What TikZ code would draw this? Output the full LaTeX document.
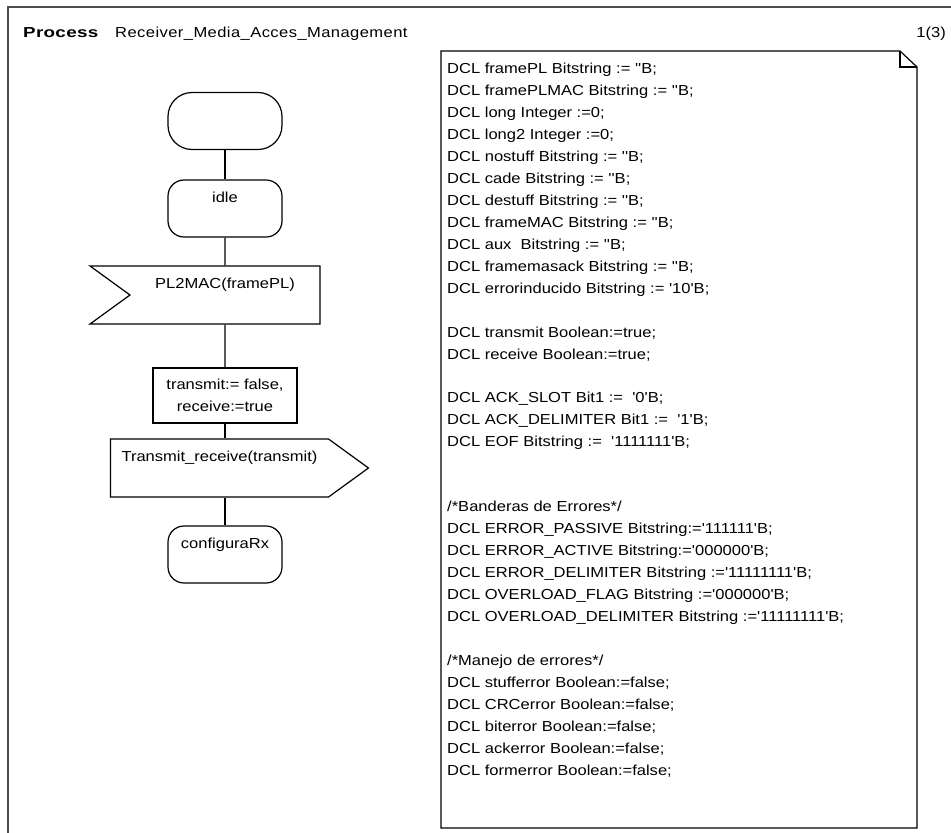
\documentclass[tikz,border=0pt]{standalone}
\usepackage{fontspec}
\setmainfont{Liberation Sans}[Ligatures=TeXOff,FakeStretch=1.14]
\usetikzlibrary{shapes.symbols}
\tikzstyle{sdlline}=[line width=1.2pt]
\tikzstyle{sdlbase}=[draw,line width=1.2pt,text height=10pt,text depth=23pt]
\tikzstyle{sdlstate}=[sdlbase,rectangle,rounded corners=16pt,minimum width=114pt,minimum height=57pt]
\tikzstyle{sdlstart}=[sdlstate,rounded corners=24pt]
\tikzstyle{sdlinput}=[sdlbase,signal,signal to=nowhere,signal from=west,signal pointer angle=72,minimum width=230pt,minimum height=58pt]
\tikzstyle{sdloutput}=[sdlbase,signal,signal to=east,signal pointer angle=72,minimum width=258pt,minimum height=58pt]
\tikzstyle{sdltask}=[draw,line width=1.2pt,rectangle,align=center,minimum width=144pt,minimum height=55pt]
\def\blankline{\\[21.53pt]} % one empty line of the declaration text

\begin{document}
\begin{tikzpicture}[x=1pt,y=-1pt,inner sep=0pt,
	every node/.style={font=\fontsize{14.5}{22}\selectfont}]
	\useasboundingbox (0,0) rectangle (951,833);
	% page frame
	\draw[black!70,line width=2.5pt] (8,833) -- (8,7) -- (951,7);
	\node[anchor=base west,font=\fontsize{14.5}{22}\selectfont\bfseries\addfontfeature{FakeStretch=1.3,LetterSpace=2}] (proclabel) at (23,37) {Process};
	\node[anchor=base west,font=\fontsize{14.5}{22}\selectfont\addfontfeature{LetterSpace=3}] (procname) at (115,37) {Receiver\_Media\_Acces\_Management};
	\node[anchor=base east] (pagenum) at (946,37) {1(3)};

	% the process flow
	\node[sdlstart] (start) at (225,121) {};
	\node[sdlstate] (idle) at (225,208.5) {idle};
	\node[sdlinput] (rxframe) at (225,295) {PL2MAC(framePL)};
	\node[sdltask] (setflags) at (225,395.5) {transmit:= false,\\receive:=true};
	\node[sdloutput] (txsignal) at (219.5,468) {Transmit\_receive(transmit)};
	\node[sdlstate] (cfgrx) at (225,554.5) {configuraRx};

	\draw[sdlline] (start) -- (idle);
	\draw[sdlline] (idle) -- (rxframe);
	\draw[sdlline] (rxframe) -- (setflags);
	\draw[sdlline] (setflags) -- (setflags |- txsignal.north);
	\draw[sdlline] (setflags |- txsignal.south) -- (cfgrx);

	% text symbol with the declarations
	\draw[sdlline] (441,51) -- (900,51) -- (917,67) -- (917,828) -- (441,828) -- cycle;
	\draw[sdlline] (900,51) -- (900,67) -- (917,67);
	\node[anchor=north west,align=left] (dcl) at (447,63) {%
		DCL framePL Bitstring := ''B;\\
		DCL framePLMAC Bitstring := ''B;\\
		DCL long Integer :=0;\\
		DCL long2 Integer :=0;\\
		DCL nostuff Bitstring := ''B;\\
		DCL cade Bitstring := ''B;\\
		DCL destuff Bitstring := ''B;\\
		DCL frameMAC Bitstring := ''B;\\
		DCL aux\ \ Bitstring := ''B;\\
		DCL framemasack Bitstring := ''B;\\
		DCL errorinducido Bitstring := '10'B;\blankline
		DCL transmit Boolean:=true;\\
		DCL receive Boolean:=true;\blankline
		DCL ACK\_SLOT Bit1 :=\ \ '0'B;\\
		DCL ACK\_DELIMITER Bit1 :=\ \ '1'B;\\
		DCL EOF Bitstring :=\ \ '1111111'B;\\[43.06pt]
		/*Banderas de Errores*/\\
		DCL ERROR\_PASSIVE Bitstring:='111111'B;\\
		DCL ERROR\_ACTIVE Bitstring:='000000'B;\\
		DCL ERROR\_DELIMITER Bitstring :='11111111'B;\\
		DCL OVERLOAD\_FLAG Bitstring :='000000'B;\\
		DCL OVERLOAD\_DELIMITER Bitstring :='11111111'B;\blankline
		/*Manejo de errores*/\\
		DCL stufferror Boolean:=false;\\
		DCL CRCerror Boolean:=false;\\
		DCL biterror Boolean:=false;\\
		DCL ackerror Boolean:=false;\\
		DCL formerror Boolean:=false;};
\end{tikzpicture}
\end{document}
